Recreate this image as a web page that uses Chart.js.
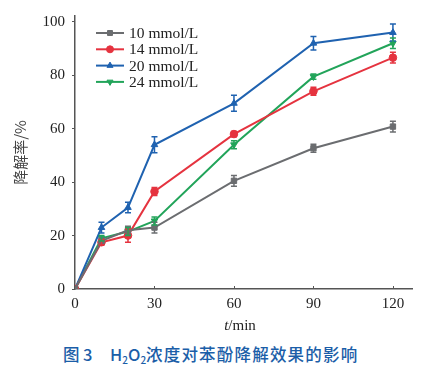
<!DOCTYPE html>
<html><head><meta charset="utf-8">
<script src="https://cdn.jsdelivr.net/npm/chart.js@4/dist/chart.umd.min.js"></script>
<style>
html,body{margin:0;padding:0;background:#fff;}
#wrap{position:relative;width:434px;height:372px;}
.cap{position:absolute;top:344px;font-family:"Noto Sans CJK SC","Noto Sans",sans-serif;font-size:16.5px;font-weight:500;color:#1b5ea8;white-space:nowrap;line-height:20px;}
.cap sub{font-size:10px;vertical-align:-3px;line-height:0;}
</style></head>
<body><div id="wrap"><canvas id="c" width="434" height="335"></canvas>
<span class="cap" style="left:63px">图</span>
<span class="cap" style="left:83px">3</span>
<span class="cap" style="left:110px;letter-spacing:0px">H<sub>2</sub>O<sub>2</sub></span>
<span class="cap" style="left:146px;letter-spacing:1.2px">浓度对苯酚降解效果的影响</span>
</div>
<script>
const times = [0, 10, 20, 30, 60, 90, 120];
const labels = ['10 mmol/L', '14 mmol/L', '20 mmol/L', '24 mmol/L'];
const s10 = [0, 18, 22, 23, 40.5, 52.7, 60.8];
const s14 = [0, 17.5, 20, 36.5, 58, 74, 86.6];
const s20 = [0, 23, 30.5, 54, 69.5, 92, 96];
const s24 = [0, 19, 21.5, 25.5, 54, 79.5, 92];
const e10 = [0, 1, 1.5, 2, 2, 1.5, 2];
const e14 = [0, 1, 2.5, 1.5, 1, 1.5, 2];
const e20 = [0, 2, 2, 3, 3, 2.5, 3.2];
const e24 = [0, 1, 1.5, 1.5, 1.5, 1, 2];
const yTicks = [0, 20, 40, 60, 80, 100];
const xTicks = [0, 30, 60, 90, 120];

const colors = ['#6b6d70', '#e5333f', '#1f62b0', '#22a45a'];
const styles = ['rect', 'circle', 'triangle', 'triangle'];
const rots = [0, 0, 0, 180];
const series = [s10, s14, s20, s24];
const errs = [e10, e14, e20, e24];

const datasets = series.map((s, i) => ({
  label: labels[i],
  data: s.map((v, j) => ({x: times[j], y: v})),
  errors: errs[i],
  borderColor: colors[i],
  backgroundColor: colors[i],
  borderWidth: 2,
  pointStyle: styles[i],
  rotation: rots[i],
  pointRadius: 3.8,
  pointBorderWidth: 1,
  tension: 0
}));

const serif = '"Liberation Serif","Times New Roman",serif';

const plugin = {
  id: 'extras',
  afterDatasetsDraw(chart) {
    const ctx = chart.ctx, xs = chart.scales.x, ys = chart.scales.y;
    ctx.save();
    chart.data.datasets.forEach(ds => {
      ctx.strokeStyle = ds.borderColor; ctx.lineWidth = 1.5;
      ds.data.forEach((p, j) => {
        const e = ds.errors[j]; if (!e) return;
        const x = xs.getPixelForValue(p.x);
        const y1 = ys.getPixelForValue(p.y - e), y2 = ys.getPixelForValue(p.y + e);
        ctx.beginPath();
        ctx.moveTo(x, y1); ctx.lineTo(x, y2);
        ctx.moveTo(x - 3, y1); ctx.lineTo(x + 3, y1);
        ctx.moveTo(x - 3, y2); ctx.lineTo(x + 3, y2);
        ctx.stroke();
      });
    });
    ctx.restore();
  },
  afterDraw(chart) {
    const ctx = chart.ctx, ca = chart.chartArea;
    ctx.save();
    // legend
    chart.data.datasets.forEach((ds, i) => {
      const y = 33 + i * 16.3;
      ctx.strokeStyle = ds.borderColor; ctx.lineWidth = 2;
      ctx.beginPath(); ctx.moveTo(96, y); ctx.lineTo(124, y); ctx.stroke();
      ctx.fillStyle = ds.backgroundColor; ctx.strokeStyle = ds.borderColor;
      ctx.lineWidth = 1;
      Chart.helpers.drawPoint(ctx, {pointStyle: ds.pointStyle, rotation: ds.rotation, radius: 3.5, borderWidth: 1}, 110, y);
      ctx.fillStyle = '#222';
      ctx.font = '15.5px ' + serif;
      ctx.textBaseline = 'middle'; ctx.textAlign = 'left';
      ctx.fillText(ds.label, 129, y + 1);
    });
    // x title
    ctx.fillStyle = '#222';
    ctx.textBaseline = 'middle';
    ctx.font = 'italic 15px ' + serif;
    const t1 = 't', t2 = '/min';
    const w1 = ctx.measureText(t1).width;
    ctx.font = '15px ' + serif;
    const w2 = ctx.measureText(t2).width;
    const cx = 240, x0 = cx - (w1 + w2) / 2;
    ctx.font = 'italic 15px ' + serif; ctx.textAlign = 'left';
    ctx.fillText(t1, x0, 326);
    ctx.font = '15px ' + serif;
    ctx.fillText(t2, x0 + w1, 326);
    // inner x ticks
    const xs = chart.scales.x;
    ctx.strokeStyle = '#555'; ctx.lineWidth = 1;
    xTicks.forEach(v => {
      if (v === 0) return;
      const x = Math.round(xs.getPixelForValue(v)) + 0.5;
      ctx.beginPath(); ctx.moveTo(x, ca.bottom); ctx.lineTo(x, ca.bottom - 3); ctx.stroke();
    });
    ctx.restore();
  }
};

new Chart(document.getElementById('c'), {
  type: 'line',
  data: {datasets},
  plugins: [plugin],
  options: {
    responsive: false,
    animation: false,
    layout: {padding: {left: 0, top: 14, right: 22, bottom: 0}},
    plugins: {legend: {display: false}, tooltip: {enabled: false}},
    scales: {
      x: {
        type: 'linear', min: 0, max: 127.2,
        afterBuildTicks: s => { s.ticks = xTicks.map(v => ({value: v})); },
        afterFit: s => { s.height = 46; },
        grid: {display: true, drawOnChartArea: false, drawTicks: false, color: '#555'},
        border: {display: true, color: '#555', width: 1.5},
        ticks: {color: '#222', font: {family: serif, size: 15}, padding: 6, maxRotation: 0, autoSkip: false}
      },
      y: {
        min: 0, max: 102.2,
        afterBuildTicks: s => { s.ticks = yTicks.map(v => ({value: v})); },
        afterFit: s => { s.width = 75; },
        grid: {display: true, drawOnChartArea: false, drawTicks: true, tickLength: 3, color: '#555'},
        border: {display: true, color: '#555', width: 1.5},
        ticks: {color: '#222', font: {family: serif, size: 15}, padding: 7},
        title: {display: true, text: '降解率/%', color: '#444', font: {family: '"Noto Sans CJK SC",sans-serif', size: 15}, padding: {top: 11, bottom: 0}}
      }
    }
  }
});
</script></body></html>
